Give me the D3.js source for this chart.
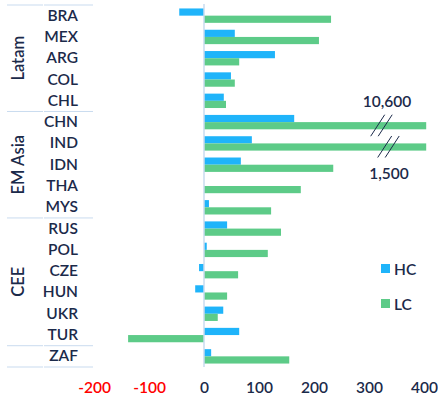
<!DOCTYPE html>
<html>
<head>
<meta charset="utf-8">
<script src="https://cdn.jsdelivr.net/npm/d3@7"></script>
<style>
  html, body { margin: 0; padding: 0; background: #fff; }
  svg { display: block; }
  text { font-family: Lato, "Open Sans", sans-serif; }
</style>
</head>
<body>
<svg id="chart" width="438" height="399"></svg>
<script>
const countries = ["BRA","MEX","ARG","COL","CHL","CHN","IND","IDN","THA","MYS","RUS","POL","CZE","HUN","UKR","TUR","ZAF"];
const hcValues = [-45, 56, 129, 49, 36, 164, 87, 67, 0, 9, 42, 5, -9, -16, 35, 64, 13];
const lcValues = [231, 209, 64, 56, 40, 10600, 1500, 235, 176, 122, 140, 116, 62, 42, 25, -138, 155];
const groups = [
  {name: "Latam", first: "BRA", last: "CHL"},
  {name: "EM Asia", first: "CHN", last: "MYS"},
  {name: "CEE", first: "RUS", last: "TUR"},
  {name: "", first: "ZAF", last: "ZAF"}
];
const xTicks = [-200, -100, 0, 100, 200, 300, 400];
const seriesNames = ["HC", "LC"];
const breakLabels = [{country: "CHN", label: "10,600"}, {country: "IND", label: "1,500"}];
const axisMax = 404; // visible cap for broken bars

const colors = {HC: "#1fb4fa", LC: "#5dcb88"};
const navy = "#1b2a4a";
const sepColor = "#c9dbef";

const svg = d3.select("#chart");
const x = d3.scaleLinear().domain([-200, 400]).range([94, 424]);
const y = d3.scaleBand().domain(countries).range([5, 367]);
const sub = d3.scaleBand().domain(seriesNames).range([0, y.bandwidth()]).paddingOuter(0.48).paddingInner(0);

// bars
const rows = countries.map((c, i) => ({c, HC: hcValues[i], LC: lcValues[i]}));
seriesNames.forEach(s => {
  svg.append("g").selectAll("rect").data(rows).join("rect")
    .attr("x", d => x(Math.min(0, d[s])))
    .attr("width", d => Math.abs(x(Math.min(d[s], axisMax)) - x(0)))
    .attr("y", d => y(d.c) + sub(s))
    .attr("height", sub.bandwidth())
    .attr("fill", colors[s]);
});

// zero axis line
svg.append("line")
  .attr("x1", x(0)).attr("x2", x(0))
  .attr("y1", y.range()[0] - 1).attr("y2", y.range()[1])
  .attr("stroke", sepColor).attr("stroke-width", 1.5);

// category labels
svg.append("g").selectAll("text").data(countries).join("text")
  .attr("x", 78)
  .attr("y", d => y(d) + y.bandwidth() / 2 - 1)
  .attr("text-anchor", "end")
  .attr("dominant-baseline", "central")
  .attr("font-size", 15.5)
  .attr("font-weight", 600)
  .attr("fill", navy)
  .text(d => d);

// group separators
const sepYs = [y.range()[0]];
groups.forEach(g => sepYs.push(y(g.last) + y.bandwidth()));
sepYs.forEach(sy => {
  svg.append("line").attr("x1", 7).attr("x2", 43).attr("y1", sy).attr("y2", sy)
    .attr("stroke", sepColor).attr("stroke-width", 1);
  svg.append("line").attr("x1", 44).attr("x2", 93).attr("y1", sy).attr("y2", sy)
    .attr("stroke", sepColor).attr("stroke-width", 1);
});

// group labels
groups.filter(g => g.name).forEach(g => {
  const cy = (y(g.first) + y(g.last) + y.bandwidth()) / 2;
  svg.append("text")
    .attr("transform", `translate(18,${cy}) rotate(-90)`)
    .attr("text-anchor", "middle")
    .attr("dominant-baseline", "central")
    .attr("font-size", 16.5)
    .attr("font-weight", 600)
    .attr("fill", navy)
    .text(g.name);
});

// x axis
const axis = d3.axisBottom(x).tickValues(xTicks).tickSize(0).tickPadding(0).tickFormat(d => String(d));
const ax = svg.append("g").attr("transform", "translate(0,382)").call(axis);
ax.select(".domain").remove();
ax.selectAll("text")
  .attr("font-family", "Lato, 'Open Sans', sans-serif")
  .attr("font-size", 15.5)
  .attr("font-weight", 600)
  .attr("fill", d => d < 0 ? "#ff0000" : navy);

// break annotations
breakLabels.forEach((b, i) => {
  const cy = y(b.country) + sub("LC") + sub.bandwidth() / 2;
  const baseX = x(axisMax) - 48.5 + i * 7;
  [0, 7.5].forEach(dx => {
    svg.append("line")
      .attr("x1", baseX - 7 + dx).attr("y1", cy + 10.5)
      .attr("x2", baseX + 7 + dx).attr("y2", cy - 11)
      .attr("stroke", navy).attr("stroke-width", 1);
  });
});
svg.append("text").attr("x", 387).attr("y", 101)
  .attr("text-anchor", "middle").attr("dominant-baseline", "central")
  .attr("font-size", 15.5).attr("font-weight", 600).attr("fill", navy)
  .text(breakLabels[0].label);
svg.append("text").attr("x", 389).attr("y", 173)
  .attr("text-anchor", "middle").attr("dominant-baseline", "central")
  .attr("font-size", 15.5).attr("font-weight", 600).attr("fill", navy)
  .text(breakLabels[1].label);

// legend
seriesNames.forEach((s, i) => {
  const ly = 264 + i * 35;
  svg.append("rect").attr("x", 381).attr("y", ly).attr("width", 9).attr("height", 9).attr("fill", colors[s]);
  svg.append("text").attr("x", 394).attr("y", ly + 4.5)
    .attr("dominant-baseline", "central")
    .attr("font-size", 15.5).attr("font-weight", 600).attr("fill", navy)
    .text(s);
});
</script>
</body>
</html>
